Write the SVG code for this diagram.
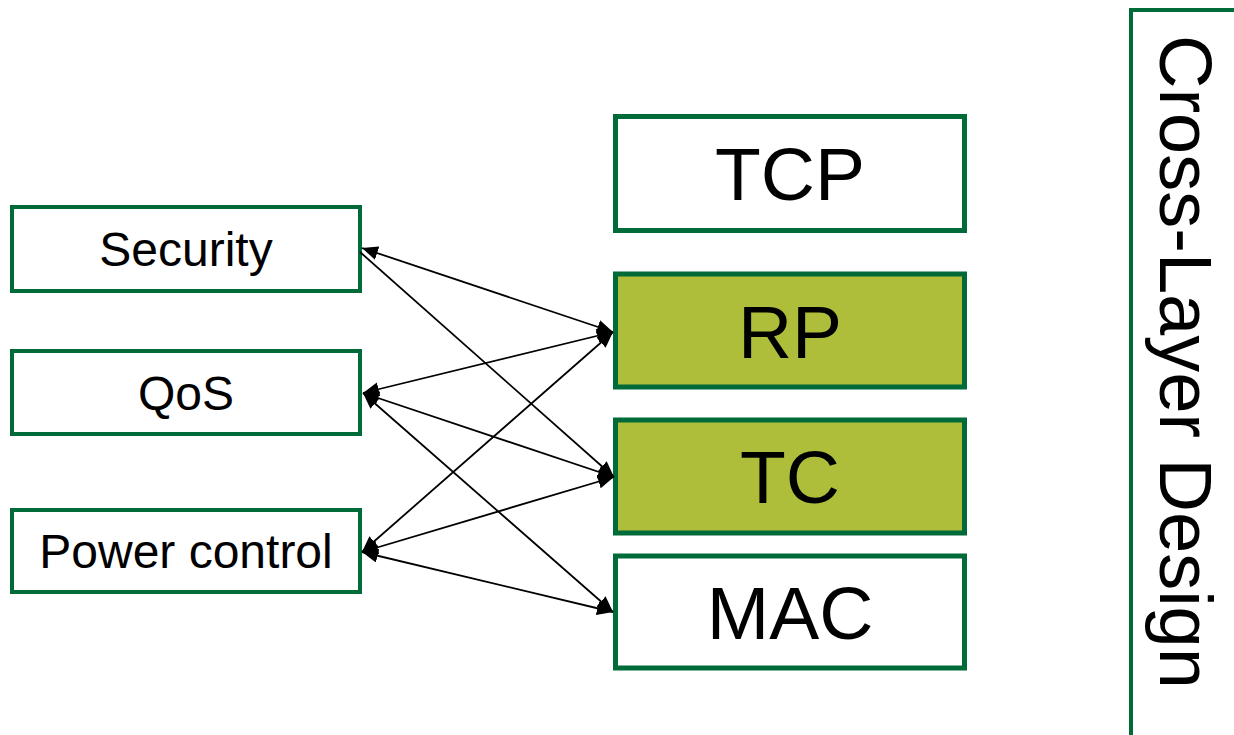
<svg xmlns="http://www.w3.org/2000/svg" width="1234" height="735" viewBox="0 0 1234 735">
<style>
.box{fill:#ffffff;stroke:#006A38;stroke-width:4}
.lay{fill:#ffffff;stroke:#006A38;stroke-width:5}
.hl{fill:#AEBE3B}
.t1{font-family:"Liberation Sans",Arial,sans-serif;font-size:48px;fill:#000;text-anchor:middle}
.t2{font-family:"Liberation Sans",Arial,sans-serif;font-size:75px;fill:#000;text-anchor:middle}
.c{stroke:#000;stroke-width:1.8;fill:none;marker-start:url(#ah);marker-end:url(#ah)}
.c1{stroke:#000;stroke-width:1.8;fill:none;marker-end:url(#ah)}
</style>
<defs>
<marker id="ah" viewBox="0 0 16 14" refX="16" refY="7" markerWidth="16" markerHeight="14" markerUnits="userSpaceOnUse" orient="auto-start-reverse">
<path d="M0,0 L16,7 L0,14 z" fill="#000"/>
</marker>
</defs>
<g id="security"><rect class="box" x="12" y="207" width="348" height="84"/><text class="t1" x="186" y="266">Security</text></g>
<g id="qos"><rect class="box" x="12" y="351" width="348" height="83"/><text class="t1" x="186" y="410">QoS</text></g>
<g id="power"><rect class="box" x="12" y="510" width="348" height="82"/><text class="t1" x="186" y="568">Power control</text></g>
<g id="tcp"><rect class="lay" x="615.5" y="116.5" width="349" height="114"/><text class="t2" x="790" y="200">TCP</text></g>
<g id="rp"><rect class="lay hl" x="615.5" y="274" width="349" height="113"/><text class="t2" x="790" y="358">RP</text></g>
<g id="tc"><rect class="lay hl" x="615.5" y="420" width="349" height="113"/><text class="t2" x="790" y="503">TC</text></g>
<g id="mac"><rect class="lay" x="615.5" y="556" width="349" height="112"/><text class="t2" x="790" y="639">MAC</text></g>
<g id="crosslayer"><rect class="box" x="1131" y="10" width="200" height="800"/><text class="t2" style="font-size:74px;text-anchor:start" transform="translate(1160,35) rotate(90)">Cross-Layer Design</text></g>
<g id="connectors">
<line class="c" x1="362" y1="248" x2="613" y2="332"/>
<line class="c1" x1="360" y1="252" x2="614" y2="477"/>
<line class="c" x1="363" y1="393" x2="613" y2="332"/>
<line class="c" x1="363" y1="393" x2="614" y2="477"/>
<line class="c" x1="363" y1="393" x2="613" y2="612"/>
<line class="c" x1="362" y1="552" x2="613" y2="332"/>
<line class="c" x1="362" y1="552" x2="614" y2="477"/>
<line class="c" x1="362" y1="552" x2="613" y2="612"/>
</g>
</svg>
